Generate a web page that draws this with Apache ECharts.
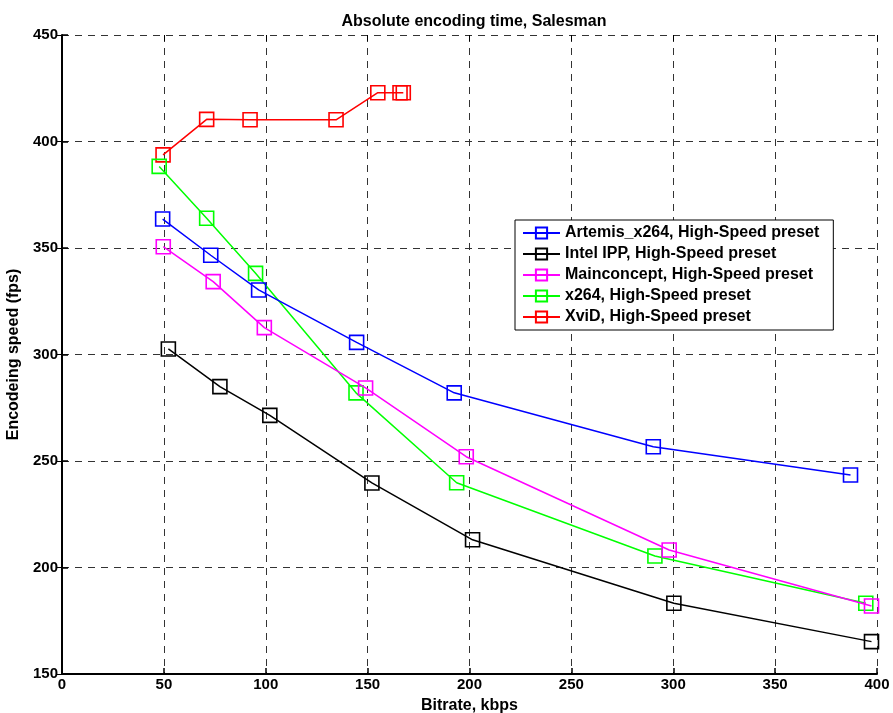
<!DOCTYPE html>
<html><head><meta charset="utf-8">
<script src="https://cdn.jsdelivr.net/npm/echarts@6/dist/echarts.min.js"></script>
<style>html,body{margin:0;padding:0;background:#fff}#c{width:893px;height:713px}</style>
</head><body><div id="c"></div>
<script>
const seriesNames = ['Artemis_x264, High-Speed preset','Intel IPP, High-Speed preset','Mainconcept, High-Speed preset','x264, High-Speed preset','XviD, High-Speed preset'];
const seriesColors = ['#0000ff','#000000','#ff00ff','#00ff00','#ff0000'];
const artemisBitrate = [49.4, 73, 96.5, 144.6, 192.5, 290.2, 387];
const artemisSpeed   = [363.6, 346.6, 330.3, 305.7, 282, 256.7, 243.4];
const ippBitrate = [52.2, 77.5, 102, 152.1, 201.5, 300.3, 397.3];
const ippSpeed   = [302.6, 284.9, 271.4, 239.7, 213, 183.2, 165.2];
const mcBitrate = [49.7, 74.2, 99.3, 149, 198.4, 298, 397.3];
const mcSpeed   = [350.6, 334.2, 312.6, 284.3, 252, 208.2, 181.9];
const x264Bitrate = [47.7, 71, 95, 144.3, 193.7, 291, 394.5];
const x264Speed   = [388.3, 364, 338.1, 282, 239.8, 205.4, 183.2];
const xvidBitrate = [49.6, 71, 92.3, 134.5, 155, 165.9, 167.5];
const xvidSpeed   = [393.7, 410.4, 410.2, 410.2, 422.9, 422.9, 422.9];
const xTicks = [0,50,100,150,200,250,300,350,400];
const yTicks = [150,200,250,300,350,400,450];

const allX = [artemisBitrate, ippBitrate, mcBitrate, x264Bitrate, xvidBitrate];
const allY = [artemisSpeed, ippSpeed, mcSpeed, x264Speed, xvidSpeed];
const FONT = '"Liberation Sans", Arial, sans-serif';

const series = seriesNames.map((n,i)=>({
  name: n, type: 'line',
  data: allX[i].map((x,k)=>[x, allY[i][k]]),
  symbol: 'rect', symbolSize: 14,
  lineStyle: {color: seriesColors[i], width: 1.5},
  itemStyle: {color: 'rgba(0,0,0,0)', borderColor: seriesColors[i], borderWidth: 1.6},
  emphasis: {disabled: true},
  animation: false,
  z: 10 - i
}));

const chart = echarts.init(document.getElementById('c'));
const gridDash = {show: true, lineStyle: {color: '#333', type: [7,6], width: 1}};
chart.setOption({
  animation: false,
  title: {text: 'Absolute encoding time, Salesman', left: 469, top: 9, textAlign: 'center',
    textStyle: {fontFamily: FONT, fontSize: 16, fontWeight: 'bold', color: '#000'}},
  grid: {left: 62, right: 16, top: 35, bottom: 39, containLabel: false, outerBoundsMode: 'none'},
  legend: {
    orient: 'vertical', left: 515, top: 220,
    data: seriesNames,
    itemWidth: 37, itemHeight: 14, itemGap: 5,
    padding: [5, 14, 5, 7],
    borderColor: '#000', borderWidth: 1, backgroundColor: '#fff',
    textStyle: {fontFamily: FONT, fontSize: 16, fontWeight: 'bold', color: '#000'},
    selectedMode: false
  },
  xAxis: [{
    type: 'value', min: 0, max: 400, interval: 50,
    name: 'Bitrate, kbps', nameLocation: 'middle', nameGap: 24,
    nameTextStyle: {fontFamily: FONT, fontSize: 16, fontWeight: 'bold', color: '#000'},
    axisLine: {show: true, onZero: false, lineStyle: {color: '#000', width: 2}},
    axisTick: {show: true, inside: true, length: 6, lineStyle: {color: '#000', width: 1.5}},
    axisLabel: {fontFamily: FONT, fontSize: 15, fontWeight: 'bold', color: '#000', margin: 3,
      formatter: v => xTicks.includes(v) ? String(v) : ''},
    splitLine: gridDash
  },{
    type: 'value', position: 'top', min: 0, max: 400, interval: 50,
    axisLine: {show: false},
    axisTick: {show: true, inside: true, length: 6, lineStyle: {color: '#000', width: 1}},
    axisLabel: {show: false}, splitLine: {show: false}
  }],
  yAxis: [{
    type: 'value', min: 150, max: 450, interval: 50,
    name: 'Encodeing speed (fps)', nameLocation: 'middle', nameGap: 32,
    nameTextStyle: {fontFamily: FONT, fontSize: 16, fontWeight: 'bold', color: '#000'},
    axisLine: {show: true, onZero: false, lineStyle: {color: '#000', width: 2}},
    axisTick: {show: true, inside: true, length: 6, lineStyle: {color: '#000', width: 1.5}},
    axisLabel: {fontFamily: FONT, fontSize: 15, fontWeight: 'bold', color: '#000', margin: 4,
      formatter: v => yTicks.includes(v) ? String(v) : ''},
    splitLine: gridDash
  },{
    type: 'value', position: 'right', min: 150, max: 450, interval: 50,
    axisLine: {show: false},
    axisTick: {show: true, inside: true, length: 6, lineStyle: {color: '#000', width: 1}},
    axisLabel: {show: false}, splitLine: {show: false}
  }],
  series: series
});
</script></body></html>
